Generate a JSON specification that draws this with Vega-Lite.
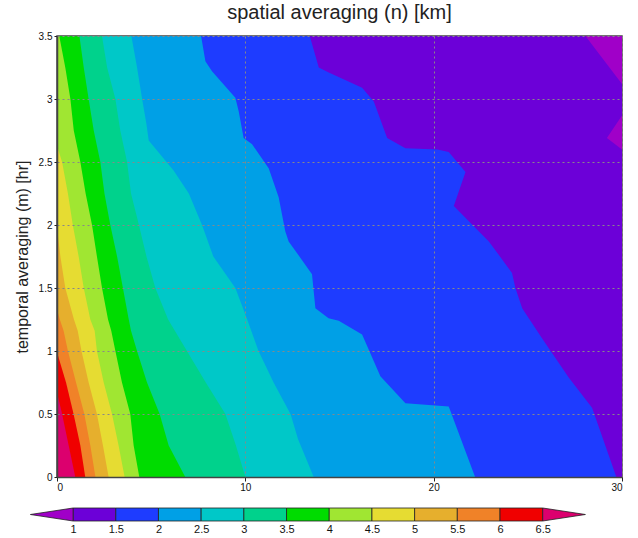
{
  "$schema": "https://vega.github.io/schema/vega-lite/v6.json",
  "background": "white",
  "padding": {"left": 13, "top": 2, "right": 5, "bottom": 2},
  "spacing": 13,
  "config": {
    "view": {"stroke": "#444", "strokeWidth": 1.5},
    "axis": {"labelFont": "Liberation Sans", "titleFont": "Liberation Sans", "labelColor": "#111", "titleColor": "#222", "titleFontWeight": "normal"}
  },
  "vconcat": [
    {
      "width": 565,
      "height": 441,
      "title": {"text": "spatial averaging (n) [km]", "fontSize": 20, "font": "Liberation Sans", "fontWeight": "normal", "color": "#222", "frame": "group", "anchor": "middle", "offset": 8},
      "data": {"values": [
        {"lev": 0.5, "y": 0, "x": 30}, {"lev": 0.5, "y": 3.5, "x": 30},
        {"lev": 1, "y": 0, "x": 30}, {"lev": 1, "y": 2.6, "x": 30}, {"lev": 1, "y": 2.69, "x": 29.2}, {"lev": 1, "y": 2.87, "x": 30}, {"lev": 1, "y": 3.12, "x": 30}, {"lev": 1, "y": 3.5, "x": 28.06},
        {"lev": 1.5, "y": 0, "x": 29.7}, {"lev": 1.5, "y": 0.55, "x": 28.41}, {"lev": 1.5, "y": 0.79, "x": 27.17}, {"lev": 1.5, "y": 1.1, "x": 25.76}, {"lev": 1.5, "y": 1.34, "x": 24.7}, {"lev": 1.5, "y": 1.5, "x": 24.34}, {"lev": 1.5, "y": 1.62, "x": 24.16}, {"lev": 1.5, "y": 1.87, "x": 22.93}, {"lev": 1.5, "y": 2.15, "x": 21.07}, {"lev": 1.5, "y": 2.42, "x": 21.69}, {"lev": 1.5, "y": 2.58, "x": 20.8}, {"lev": 1.5, "y": 2.6, "x": 20.2}, {"lev": 1.5, "y": 2.61, "x": 18.5}, {"lev": 1.5, "y": 2.69, "x": 17.53}, {"lev": 1.5, "y": 2.98, "x": 16.82}, {"lev": 1.5, "y": 3.09, "x": 16.2}, {"lev": 1.5, "y": 3.21, "x": 14.43}, {"lev": 1.5, "y": 3.25, "x": 13.9}, {"lev": 1.5, "y": 3.5, "x": 13.42},
        {"lev": 2, "y": 0, "x": 22.2}, {"lev": 2, "y": 0.56, "x": 20.8}, {"lev": 2, "y": 0.585, "x": 18.5}, {"lev": 2, "y": 0.8, "x": 17.17}, {"lev": 2, "y": 1.13, "x": 16.2}, {"lev": 2, "y": 1.24, "x": 14.96}, {"lev": 2, "y": 1.26, "x": 14.42}, {"lev": 2, "y": 1.34, "x": 13.72}, {"lev": 2, "y": 1.61, "x": 13.54}, {"lev": 2, "y": 1.87, "x": 12.3}, {"lev": 2, "y": 1.95, "x": 12.12}, {"lev": 2, "y": 2.22, "x": 11.77}, {"lev": 2, "y": 2.45, "x": 11.24}, {"lev": 2, "y": 2.64, "x": 10.36}, {"lev": 2, "y": 2.69, "x": 9.91}, {"lev": 2, "y": 2.9, "x": 9.65}, {"lev": 2, "y": 3.01, "x": 9.47}, {"lev": 2, "y": 3.22, "x": 8.23}, {"lev": 2, "y": 3.3, "x": 7.88}, {"lev": 2, "y": 3.5, "x": 7.65},
        {"lev": 2.5, "y": 0, "x": 13.63}, {"lev": 2.5, "y": 0.3, "x": 12.8}, {"lev": 2.5, "y": 0.5, "x": 12.4}, {"lev": 2.5, "y": 0.75, "x": 11.5}, {"lev": 2.5, "y": 1, "x": 10.7}, {"lev": 2.5, "y": 1.25, "x": 10.1}, {"lev": 2.5, "y": 1.5, "x": 9.47}, {"lev": 2.5, "y": 1.75, "x": 8.3}, {"lev": 2.5, "y": 2, "x": 7.7}, {"lev": 2.5, "y": 2.25, "x": 7.0}, {"lev": 2.5, "y": 2.43, "x": 6.2}, {"lev": 2.5, "y": 2.67, "x": 4.87}, {"lev": 2.5, "y": 2.8, "x": 4.75}, {"lev": 2.5, "y": 3, "x": 4.52}, {"lev": 2.5, "y": 3.25, "x": 4.25}, {"lev": 2.5, "y": 3.5, "x": 3.95},
        {"lev": 3, "y": 0, "x": 10.0}, {"lev": 3, "y": 0.25, "x": 9.5}, {"lev": 3, "y": 0.5, "x": 8.94}, {"lev": 3, "y": 0.75, "x": 7.9}, {"lev": 3, "y": 1, "x": 6.9}, {"lev": 3, "y": 1.25, "x": 5.9}, {"lev": 3, "y": 1.5, "x": 5.22}, {"lev": 3, "y": 1.75, "x": 4.75}, {"lev": 3, "y": 2, "x": 4.35}, {"lev": 3, "y": 2.25, "x": 3.93}, {"lev": 3, "y": 2.5, "x": 3.72}, {"lev": 3, "y": 2.75, "x": 3.36}, {"lev": 3, "y": 3, "x": 3.1}, {"lev": 3, "y": 3.25, "x": 2.66}, {"lev": 3, "y": 3.5, "x": 2.39},
        {"lev": 3.5, "y": 0, "x": 6.81}, {"lev": 3.5, "y": 0.25, "x": 5.93}, {"lev": 3.5, "y": 0.5, "x": 5.45}, {"lev": 3.5, "y": 0.75, "x": 4.78}, {"lev": 3.5, "y": 1, "x": 4.25}, {"lev": 3.5, "y": 1.16, "x": 3.93}, {"lev": 3.5, "y": 1.25, "x": 3.81}, {"lev": 3.5, "y": 1.5, "x": 3.5}, {"lev": 3.5, "y": 1.75, "x": 3.19}, {"lev": 3.5, "y": 2, "x": 2.83}, {"lev": 3.5, "y": 2.25, "x": 2.52}, {"lev": 3.5, "y": 2.5, "x": 2.3}, {"lev": 3.5, "y": 2.75, "x": 1.95}, {"lev": 3.5, "y": 3, "x": 1.68}, {"lev": 3.5, "y": 3.25, "x": 1.42}, {"lev": 3.5, "y": 3.5, "x": 1.19},
        {"lev": 4, "y": 0, "x": 4.37}, {"lev": 4, "y": 0.25, "x": 4.07}, {"lev": 4, "y": 0.5, "x": 3.89}, {"lev": 4, "y": 0.75, "x": 3.45}, {"lev": 4, "y": 1, "x": 3.1}, {"lev": 4, "y": 1.16, "x": 2.88}, {"lev": 4, "y": 1.25, "x": 2.71}, {"lev": 4, "y": 1.5, "x": 2.39}, {"lev": 4, "y": 1.75, "x": 2.12}, {"lev": 4, "y": 2, "x": 1.86}, {"lev": 4, "y": 2.25, "x": 1.52}, {"lev": 4, "y": 2.5, "x": 1.24}, {"lev": 4, "y": 2.75, "x": 0.89}, {"lev": 4, "y": 3, "x": 0.71}, {"lev": 4, "y": 3.25, "x": 0.44}, {"lev": 4, "y": 3.5, "x": 0.12},
        {"lev": 4.5, "y": 0, "x": 3.59}, {"lev": 4.5, "y": 0.25, "x": 3.27}, {"lev": 4.5, "y": 0.5, "x": 2.92}, {"lev": 4.5, "y": 0.75, "x": 2.48}, {"lev": 4.5, "y": 1, "x": 2.12}, {"lev": 4.5, "y": 1.16, "x": 2.0}, {"lev": 4.5, "y": 1.25, "x": 1.77}, {"lev": 4.5, "y": 1.5, "x": 1.42}, {"lev": 4.5, "y": 1.75, "x": 1.15}, {"lev": 4.5, "y": 2, "x": 0.84}, {"lev": 4.5, "y": 2.25, "x": 0.58}, {"lev": 4.5, "y": 2.5, "x": 0.27}, {"lev": 4.5, "y": 2.63, "x": 0},
        {"lev": 5, "y": 0, "x": 2.74}, {"lev": 5, "y": 0.25, "x": 2.44}, {"lev": 5, "y": 0.5, "x": 2.12}, {"lev": 5, "y": 0.75, "x": 1.68}, {"lev": 5, "y": 1, "x": 1.3}, {"lev": 5, "y": 1.16, "x": 1.1}, {"lev": 5, "y": 1.25, "x": 0.9}, {"lev": 5, "y": 1.5, "x": 0.44}, {"lev": 5, "y": 1.75, "x": 0.18}, {"lev": 5, "y": 1.98, "x": 0},
        {"lev": 5.5, "y": 0, "x": 2.04}, {"lev": 5.5, "y": 0.25, "x": 1.77}, {"lev": 5.5, "y": 0.5, "x": 1.45}, {"lev": 5.5, "y": 0.75, "x": 1.01}, {"lev": 5.5, "y": 1, "x": 0.58}, {"lev": 5.5, "y": 1.16, "x": 0.35}, {"lev": 5.5, "y": 1.25, "x": 0.15}, {"lev": 5.5, "y": 1.33, "x": 0},
        {"lev": 6, "y": 0, "x": 1.5}, {"lev": 6, "y": 0.25, "x": 1.24}, {"lev": 6, "y": 0.5, "x": 0.88}, {"lev": 6, "y": 0.75, "x": 0.48}, {"lev": 6, "y": 0.99, "x": 0},
        {"lev": 6.5, "y": 0, "x": 0.97}, {"lev": 6.5, "y": 0.25, "x": 0.62}, {"lev": 6.5, "y": 0.5, "x": 0.27}, {"lev": 6.5, "y": 0.67, "x": 0}
      ]},
      "encoding": {
        "y": {"field": "y", "type": "quantitative", "scale": {"domain": [0, 3.5], "nice": false, "zero": false},
          "axis": {"values": [0, 0.5, 1, 1.5, 2, 2.5, 3, 3.5], "format": "~g", "title": "temporal averaging (m) [hr]", "titleFontSize": 16, "titlePadding": 8, "labelFontSize": 10, "tickSize": 3, "tickColor": "#222", "domainColor": "#444", "domainWidth": 1.5, "grid": true, "gridDash": [2, 3], "gridColor": "#888", "zindex": 1}},
        "x": {"field": "x", "type": "quantitative", "stack": null, "scale": {"domain": [0, 30], "nice": false, "zero": false},
          "axis": {"values": [0, 10, 20, 30], "format": "d", "title": null, "labelFontSize": 10, "tickSize": 4, "labelPadding": 1, "tickColor": "#222", "domainColor": "#444", "domainWidth": 1.5, "grid": true, "gridDash": [2, 3], "gridColor": "#888", "zindex": 1}},
        "color": {"field": "lev", "type": "ordinal", "legend": null,
          "scale": {"domain": [0.5, 1, 1.5, 2, 2.5, 3, 3.5, 4, 4.5, 5, 5.5, 6, 6.5],
            "range": ["#a000c8", "#6c00d8", "#1e3cff", "#00a0e6", "#00c8c8", "#00d28c", "#00dc00", "#a0e632", "#e6dc32", "#e6af2d", "#f08228", "#f00000", "#dc006e"]}}
      },
      "layer": [
        {"transform": [{"filter": "datum.lev == 0.5"}], "mark": {"type": "area", "orient": "horizontal"}},
        {"transform": [{"filter": "datum.lev == 1"}], "mark": {"type": "area", "orient": "horizontal"}},
        {"transform": [{"filter": "datum.lev == 1.5"}], "mark": {"type": "area", "orient": "horizontal"}},
        {"transform": [{"filter": "datum.lev == 2"}], "mark": {"type": "area", "orient": "horizontal"}},
        {"transform": [{"filter": "datum.lev == 2.5"}], "mark": {"type": "area", "orient": "horizontal"}},
        {"transform": [{"filter": "datum.lev == 3"}], "mark": {"type": "area", "orient": "horizontal"}},
        {"transform": [{"filter": "datum.lev == 3.5"}], "mark": {"type": "area", "orient": "horizontal"}},
        {"transform": [{"filter": "datum.lev == 4"}], "mark": {"type": "area", "orient": "horizontal"}},
        {"transform": [{"filter": "datum.lev == 4.5"}], "mark": {"type": "area", "orient": "horizontal"}},
        {"transform": [{"filter": "datum.lev == 5"}], "mark": {"type": "area", "orient": "horizontal"}},
        {"transform": [{"filter": "datum.lev == 5.5"}], "mark": {"type": "area", "orient": "horizontal"}},
        {"transform": [{"filter": "datum.lev == 6"}], "mark": {"type": "area", "orient": "horizontal"}},
        {"transform": [{"filter": "datum.lev == 6.5"}], "mark": {"type": "area", "orient": "horizontal"}}
      ]
    },
    {
      "width": 528.4,
      "height": 13,
      "view": {"stroke": null},
      "layer": [
        {
          "data": {"values": [
            {"lo": 1, "hi": 1.5, "lev": 1}, {"lo": 1.5, "hi": 2, "lev": 1.5}, {"lo": 2, "hi": 2.5, "lev": 2}, {"lo": 2.5, "hi": 3, "lev": 2.5},
            {"lo": 3, "hi": 3.5, "lev": 3}, {"lo": 3.5, "hi": 4, "lev": 3.5}, {"lo": 4, "hi": 4.5, "lev": 4}, {"lo": 4.5, "hi": 5, "lev": 4.5},
            {"lo": 5, "hi": 5.5, "lev": 5}, {"lo": 5.5, "hi": 6, "lev": 5.5}, {"lo": 6, "hi": 6.5, "lev": 6}
          ]},
          "mark": {"type": "rect", "stroke": "#222", "strokeWidth": 0.8},
          "encoding": {
            "x": {"field": "lo", "type": "quantitative", "scale": {"domain": [0.8115, 7.0], "nice": false, "zero": false},
              "axis": {"values": [1, 1.5, 2, 2.5, 3, 3.5, 4, 4.5, 5, 5.5, 6, 6.5], "format": "~g", "title": null, "domain": false, "ticks": false, "grid": false, "labelPadding": 2, "labelFontSize": 11, "labelColor": "#111"}},
            "x2": {"field": "hi"},
            "y": {"datum": 0, "type": "quantitative", "scale": {"domain": [0, 1], "nice": false}, "axis": null},
            "y2": {"datum": 1},
            "color": {"field": "lev", "type": "ordinal", "legend": null,
              "scale": {"domain": [0.5, 1, 1.5, 2, 2.5, 3, 3.5, 4, 4.5, 5, 5.5, 6, 6.5],
                "range": ["#a000c8", "#6c00d8", "#1e3cff", "#00a0e6", "#00c8c8", "#00d28c", "#00dc00", "#a0e632", "#e6dc32", "#e6af2d", "#f08228", "#f00000", "#dc006e"]}}
          }
        },
        {
          "data": {"values": [
            {"x": 0.5, "y": 0.5, "y2": 0.5, "lev": 0.5}, {"x": 1, "y": 0, "y2": 1, "lev": 0.5},
            {"x": 6.5, "y": 0, "y2": 1, "lev": 6.5}, {"x": 7, "y": 0.5, "y2": 0.5, "lev": 6.5}
          ]},
          "mark": {"type": "area", "stroke": "#222", "strokeWidth": 0.8},
          "encoding": {
            "x": {"field": "x", "type": "quantitative"},
            "y": {"field": "y", "type": "quantitative", "stack": null},
            "y2": {"field": "y2"},
            "color": {"field": "lev", "type": "ordinal", "legend": null}
          }
        }
      ]
    }
  ]
}
